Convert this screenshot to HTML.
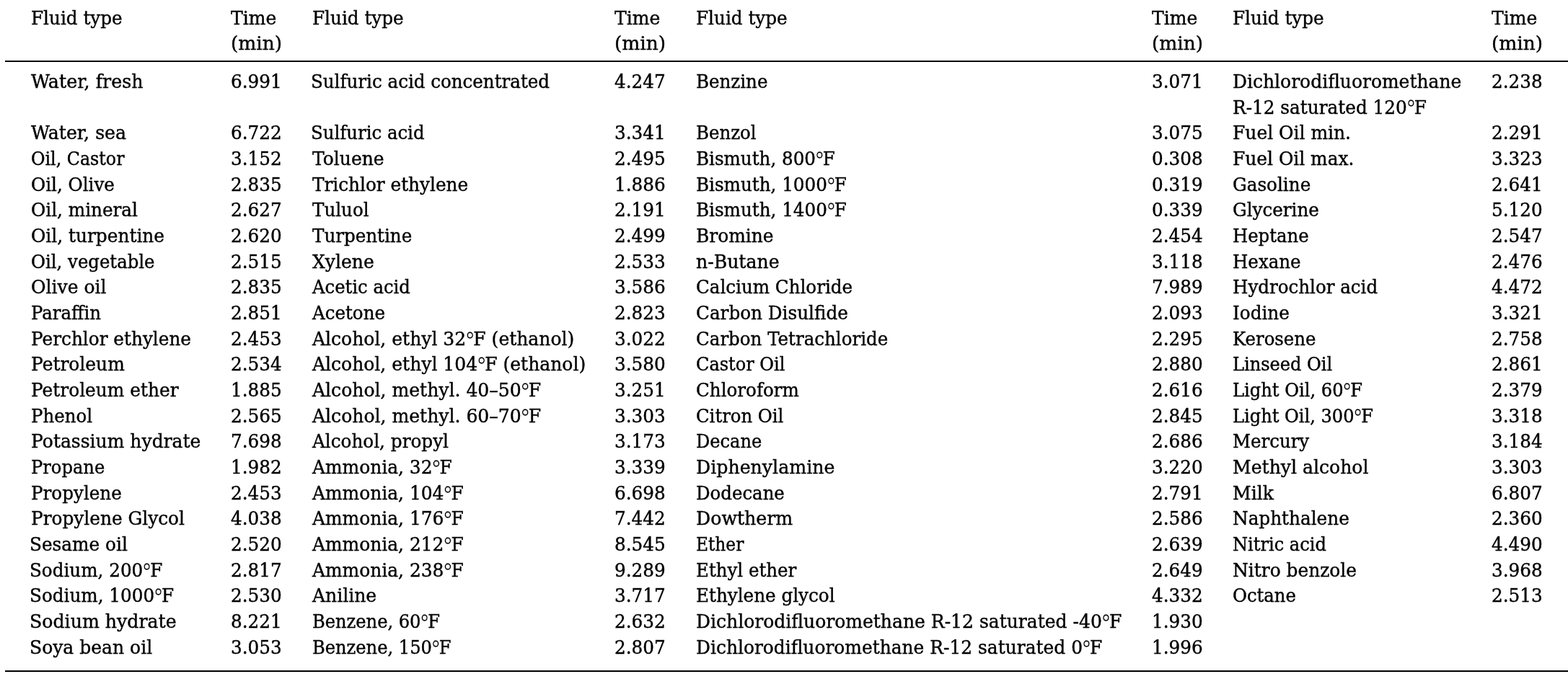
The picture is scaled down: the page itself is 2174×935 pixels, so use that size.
<!DOCTYPE html>
<html lang="en">
<head>
<meta charset="utf-8">
<title>Fluid type / Time (min)</title>
<style>
html,body{margin:0;padding:0;background:#fff;}
body{width:2174px;height:935px;overflow:hidden;position:relative;
 font-family:"DejaVu Serif","Liberation Serif",serif;color:#000;}
.rule{position:absolute;left:7px;right:0;height:2px;background:#000;}
table{position:absolute;left:42px;top:0;border-collapse:collapse;border-spacing:0;table-layout:fixed;
 width:2132px;font-size:26.8px;line-height:35px;}
td,th{padding:0;margin:0;font-weight:normal;text-align:left;vertical-align:top;
 white-space:nowrap;overflow:visible;-webkit-text-stroke:0.45px #000;}
thead tr{height:95px;}
thead th{padding-top:7px;}
td:nth-child(1),th:nth-child(1){padding-left:0.50px;}
td:nth-child(2),th:nth-child(2){padding-left:0.75px;}
td:nth-child(3),th:nth-child(3){padding-left:0.50px;}
td:nth-child(4),th:nth-child(4){padding-left:0.95px;}
td:nth-child(5),th:nth-child(5){padding-left:0.90px;}
td:nth-child(6),th:nth-child(6){padding-left:0.65px;}
td:nth-child(7),th:nth-child(7){padding-left:0.10px;}
td:nth-child(8),th:nth-child(8){padding-left:0.35px;}
.two{line-height:35.5px;}
.s{display:inline-block;transform-origin:0 50%;transform:scaleX(var(--k,0.934));}
.n .s{transform:scaleX(var(--k,0.92));}
.dg{font-size:1.15em;line-height:0;position:relative;top:.15em;margin:0 -.09em 0 -.06em;-webkit-text-stroke:.5px #fff;}
</style>
</head>
<body>
<div class="rule" style="top:84px"></div>
<div class="rule" style="top:930px"></div>
<table>
<colgroup><col style="width:277px"><col style="width:113px"><col style="width:419px"><col style="width:113px"><col style="width:632px"><col style="width:113px"><col style="width:359px"><col style="width:106px"></colgroup>
<thead>
<tr><th><span class="s" style="--k:0.9210">Fluid type</span></th><th class="n"><span class="s" style="--k:0.9360">Time</span><br><span class="s" style="--k:0.9860">(min)</span></th><th><span class="s" style="--k:0.9210">Fluid type</span></th><th class="n"><span class="s" style="--k:0.9360">Time</span><br><span class="s" style="--k:0.9860">(min)</span></th><th><span class="s" style="--k:0.9210">Fluid type</span></th><th class="n"><span class="s" style="--k:0.9360">Time</span><br><span class="s" style="--k:0.9860">(min)</span></th><th><span class="s" style="--k:0.9210">Fluid type</span></th><th class="n"><span class="s" style="--k:0.9360">Time</span><br><span class="s" style="--k:0.9860">(min)</span></th></tr>
</thead>
<tbody>
<tr style="height:71px"><td><span class="s" style="--k:0.9463">Water, fresh</span></td><td class="n"><span class="s">6.991</span></td><td><span class="s" style="--k:0.9160;margin-left:-1.5px">Sulfuric acid concentrated</span></td><td class="n"><span class="s">4.247</span></td><td><span class="s" style="--k:0.9155">Benzine</span></td><td class="n"><span class="s">3.071</span></td><td class="two"><span class="s" style="--k:0.9325">Dichlorodifluoromethane</span><br><span class="s" style="--k:0.9236">R-12 saturated 120<span class="dg">°</span>F</span></td><td class="n"><span class="s">2.238</span></td></tr>
<tr style="height:36px"><td><span class="s" style="--k:0.9412">Water, sea</span></td><td class="n"><span class="s">6.722</span></td><td><span class="s" style="--k:0.9108;margin-left:-1.5px">Sulfuric acid</span></td><td class="n"><span class="s">3.341</span></td><td><span class="s" style="--k:0.9120">Benzol</span></td><td class="n"><span class="s">3.075</span></td><td><span class="s" style="--k:0.9310">Fuel Oil min.</span></td><td class="n"><span class="s">2.291</span></td></tr>
<tr style="height:36px"><td><span class="s" style="--k:0.8864">Oil, Castor</span></td><td class="n"><span class="s">3.152</span></td><td><span class="s" style="--k:0.9340">Toluene</span></td><td class="n"><span class="s">2.495</span></td><td><span class="s" style="--k:0.9174">Bismuth, 800<span class="dg">°</span>F</span></td><td class="n"><span class="s">0.308</span></td><td><span class="s" style="--k:0.9286">Fuel Oil max.</span></td><td class="n"><span class="s">3.323</span></td></tr>
<tr style="height:35px"><td><span class="s" style="--k:0.9181">Oil, Olive</span></td><td class="n"><span class="s">2.835</span></td><td><span class="s" style="--k:0.9232">Trichlor ethylene</span></td><td class="n"><span class="s">1.886</span></td><td><span class="s" style="--k:0.9187">Bismuth, 1000<span class="dg">°</span>F</span></td><td class="n"><span class="s">0.319</span></td><td><span class="s" style="--k:0.9213">Gasoline</span></td><td class="n"><span class="s">2.641</span></td></tr>
<tr style="height:36px"><td><span class="s" style="--k:0.9214">Oil, mineral</span></td><td class="n"><span class="s">2.627</span></td><td><span class="s" style="--k:0.9166">Tuluol</span></td><td class="n"><span class="s">2.191</span></td><td><span class="s" style="--k:0.9187">Bismuth, 1400<span class="dg">°</span>F</span></td><td class="n"><span class="s">0.339</span></td><td><span class="s" style="--k:0.9186">Glycerine</span></td><td class="n"><span class="s">5.120</span></td></tr>
<tr style="height:36px"><td><span class="s" style="--k:0.9265">Oil, turpentine</span></td><td class="n"><span class="s">2.620</span></td><td><span class="s" style="--k:0.9175">Turpentine</span></td><td class="n"><span class="s">2.499</span></td><td><span class="s" style="--k:0.9298">Bromine</span></td><td class="n"><span class="s">2.454</span></td><td><span class="s" style="--k:0.9080">Heptane</span></td><td class="n"><span class="s">2.547</span></td></tr>
<tr style="height:35px"><td><span class="s" style="--k:0.9101">Oil, vegetable</span></td><td class="n"><span class="s">2.515</span></td><td><span class="s" style="--k:0.9340">Xylene</span></td><td class="n"><span class="s">2.533</span></td><td><span class="s" style="--k:0.9381">n-Butane</span></td><td class="n"><span class="s">3.118</span></td><td><span class="s" style="--k:0.9146">Hexane</span></td><td class="n"><span class="s">2.476</span></td></tr>
<tr style="height:36px"><td><span class="s" style="--k:0.9340">Olive oil</span></td><td class="n"><span class="s">2.835</span></td><td><span class="s" style="--k:0.9073">Acetic acid</span></td><td class="n"><span class="s">3.586</span></td><td><span class="s" style="--k:0.9170">Calcium Chloride</span></td><td class="n"><span class="s">7.989</span></td><td><span class="s" style="--k:0.9158">Hydrochlor acid</span></td><td class="n"><span class="s">4.472</span></td></tr>
<tr style="height:36px"><td><span class="s" style="--k:0.9106">Paraffin</span></td><td class="n"><span class="s">2.851</span></td><td><span class="s" style="--k:0.9158">Acetone</span></td><td class="n"><span class="s">2.823</span></td><td><span class="s" style="--k:0.9210">Carbon Disulfide</span></td><td class="n"><span class="s">2.093</span></td><td><span class="s" style="--k:0.9222">Iodine</span></td><td class="n"><span class="s">3.321</span></td></tr>
<tr style="height:35px"><td><span class="s" style="--k:0.9237">Perchlor ethylene</span></td><td class="n"><span class="s">2.453</span></td><td><span class="s" style="--k:0.9340">Alcohol, ethyl 32<span class="dg">°</span>F (ethanol)</span></td><td class="n"><span class="s">3.022</span></td><td><span class="s" style="--k:0.9150">Carbon Tetrachloride</span></td><td class="n"><span class="s">2.295</span></td><td><span class="s" style="--k:0.9103">Kerosene</span></td><td class="n"><span class="s">2.758</span></td></tr>
<tr style="height:36px"><td><span class="s" style="--k:0.9304">Petroleum</span></td><td class="n"><span class="s">2.534</span></td><td><span class="s" style="--k:0.9340">Alcohol, ethyl 104<span class="dg">°</span>F (ethanol)</span></td><td class="n"><span class="s">3.580</span></td><td><span class="s" style="--k:0.8975">Castor Oil</span></td><td class="n"><span class="s">2.880</span></td><td><span class="s" style="--k:0.8982">Linseed Oil</span></td><td class="n"><span class="s">2.861</span></td></tr>
<tr style="height:36px"><td><span class="s" style="--k:0.9272">Petroleum ether</span></td><td class="n"><span class="s">1.885</span></td><td><span class="s" style="--k:0.9355">Alcohol, methyl. 40–50<span class="dg">°</span>F</span></td><td class="n"><span class="s">3.251</span></td><td><span class="s" style="--k:0.9179">Chloroform</span></td><td class="n"><span class="s">2.616</span></td><td><span class="s" style="--k:0.9013">Light Oil, 60<span class="dg">°</span>F</span></td><td class="n"><span class="s">2.379</span></td></tr>
<tr style="height:35px"><td><span class="s" style="--k:0.9126">Phenol</span></td><td class="n"><span class="s">2.565</span></td><td><span class="s" style="--k:0.9355">Alcohol, methyl. 60–70<span class="dg">°</span>F</span></td><td class="n"><span class="s">3.303</span></td><td><span class="s" style="--k:0.9079">Citron Oil</span></td><td class="n"><span class="s">2.845</span></td><td><span class="s" style="--k:0.8992">Light Oil, 300<span class="dg">°</span>F</span></td><td class="n"><span class="s">3.318</span></td></tr>
<tr style="height:36px"><td><span class="s" style="--k:0.9340">Potassium hydrate</span></td><td class="n"><span class="s">7.698</span></td><td><span class="s" style="--k:0.9218">Alcohol, propyl</span></td><td class="n"><span class="s">3.173</span></td><td><span class="s" style="--k:0.8993">Decane</span></td><td class="n"><span class="s">2.686</span></td><td><span class="s" style="--k:0.9127">Mercury</span></td><td class="n"><span class="s">3.184</span></td></tr>
<tr style="height:36px"><td><span class="s" style="--k:0.9030">Propane</span></td><td class="n"><span class="s">1.982</span></td><td><span class="s" style="--k:0.9292">Ammonia, 32<span class="dg">°</span>F</span></td><td class="n"><span class="s">3.339</span></td><td><span class="s" style="--k:0.9413">Diphenylamine</span></td><td class="n"><span class="s">3.220</span></td><td><span class="s" style="--k:0.9365">Methyl alcohol</span></td><td class="n"><span class="s">3.303</span></td></tr>
<tr style="height:35px"><td><span class="s" style="--k:0.9194">Propylene</span></td><td class="n"><span class="s">2.453</span></td><td><span class="s" style="--k:0.9296">Ammonia, 104<span class="dg">°</span>F</span></td><td class="n"><span class="s">6.698</span></td><td><span class="s" style="--k:0.9116">Dodecane</span></td><td class="n"><span class="s">2.791</span></td><td><span class="s" style="--k:0.9341">Milk</span></td><td class="n"><span class="s">6.807</span></td></tr>
<tr style="height:36px"><td><span class="s" style="--k:0.9254">Propylene Glycol</span></td><td class="n"><span class="s">4.038</span></td><td><span class="s" style="--k:0.9296">Ammonia, 176<span class="dg">°</span>F</span></td><td class="n"><span class="s">7.442</span></td><td><span class="s" style="--k:0.9410">Dowtherm</span></td><td class="n"><span class="s">2.586</span></td><td><span class="s" style="--k:0.9226">Naphthalene</span></td><td class="n"><span class="s">2.360</span></td></tr>
<tr style="height:36px"><td><span class="s" style="--k:0.9239;margin-left:-1.5px">Sesame oil</span></td><td class="n"><span class="s">2.520</span></td><td><span class="s" style="--k:0.9296">Ammonia, 212<span class="dg">°</span>F</span></td><td class="n"><span class="s">8.545</span></td><td><span class="s" style="--k:0.8693">Ether</span></td><td class="n"><span class="s">2.639</span></td><td><span class="s" style="--k:0.8991">Nitric acid</span></td><td class="n"><span class="s">4.490</span></td></tr>
<tr style="height:35px"><td><span class="s" style="--k:0.9191;margin-left:-1.5px">Sodium, 200<span class="dg">°</span>F</span></td><td class="n"><span class="s">2.817</span></td><td><span class="s" style="--k:0.9296">Ammonia, 238<span class="dg">°</span>F</span></td><td class="n"><span class="s">9.289</span></td><td><span class="s" style="--k:0.9144">Ethyl ether</span></td><td class="n"><span class="s">2.649</span></td><td><span class="s" style="--k:0.9286">Nitro benzole</span></td><td class="n"><span class="s">3.968</span></td></tr>
<tr style="height:36px"><td><span class="s" style="--k:0.9203;margin-left:-1.5px">Sodium, 1000<span class="dg">°</span>F</span></td><td class="n"><span class="s">2.530</span></td><td><span class="s" style="--k:0.9341">Aniline</span></td><td class="n"><span class="s">3.717</span></td><td><span class="s" style="--k:0.9196">Ethylene glycol</span></td><td class="n"><span class="s">4.332</span></td><td><span class="s" style="--k:0.9082">Octane</span></td><td class="n"><span class="s">2.513</span></td></tr>
<tr style="height:36px"><td><span class="s" style="--k:0.9410;margin-left:-1.5px">Sodium hydrate</span></td><td class="n"><span class="s">8.221</span></td><td><span class="s" style="--k:0.9009">Benzene, 60<span class="dg">°</span>F</span></td><td class="n"><span class="s">2.632</span></td><td><span class="s" style="--k:0.9340">Dichlorodifluoromethane R-12 saturated -40<span class="dg">°</span>F</span></td><td class="n"><span class="s">1.930</span></td><td></td><td class="n"></td></tr>
<tr style="height:35px"><td><span class="s" style="--k:0.9341;margin-left:-1.5px">Soya bean oil</span></td><td class="n"><span class="s">3.053</span></td><td><span class="s" style="--k:0.9012">Benzene, 150<span class="dg">°</span>F</span></td><td class="n"><span class="s">2.807</span></td><td><span class="s" style="--k:0.9297">Dichlorodifluoromethane R-12 saturated 0<span class="dg">°</span>F</span></td><td class="n"><span class="s">1.996</span></td><td></td><td class="n"></td></tr>
</tbody>
</table>
</body>
</html>
